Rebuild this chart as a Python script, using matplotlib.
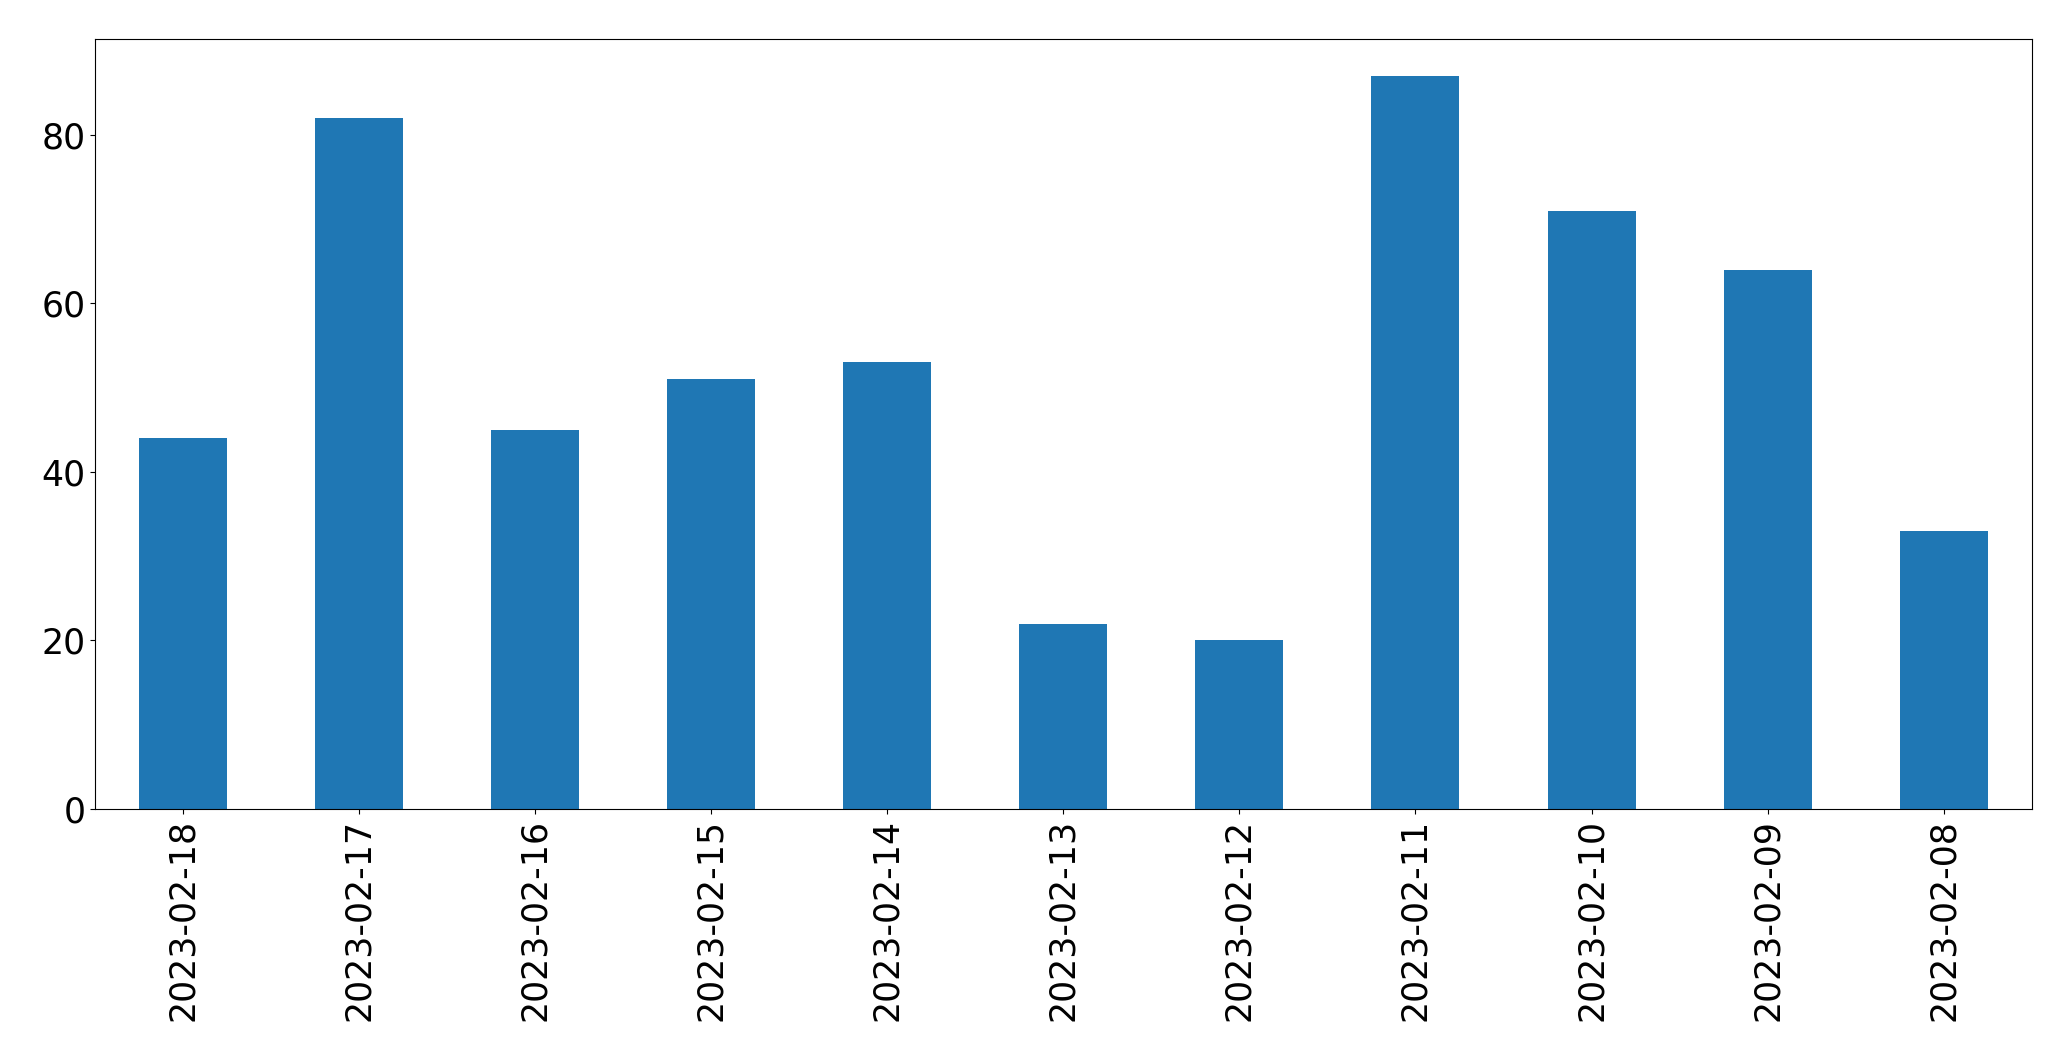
import pandas as pd
import matplotlib
matplotlib.use("Agg")
import matplotlib.pyplot as plt

# Counts per day
dates = ["2023-02-18", "2023-02-17", "2023-02-16", "2023-02-15", "2023-02-14",
         "2023-02-13", "2023-02-12", "2023-02-11", "2023-02-10", "2023-02-09",
         "2023-02-08"]
counts = [44, 82, 45, 51, 53, 22, 20, 87, 71, 64, 33]

s = pd.Series(counts, index=dates)

plt.figure(figsize=(20.71, 10.61), dpi=100)
s.plot(kind="bar", color="#1f77b4")
plt.xticks(fontsize=25)
plt.yticks(fontsize=25)
plt.subplots_adjust(left=0.0459, right=0.981, top=0.963, bottom=0.2375)
plt.savefig("out.png", dpi=100)
